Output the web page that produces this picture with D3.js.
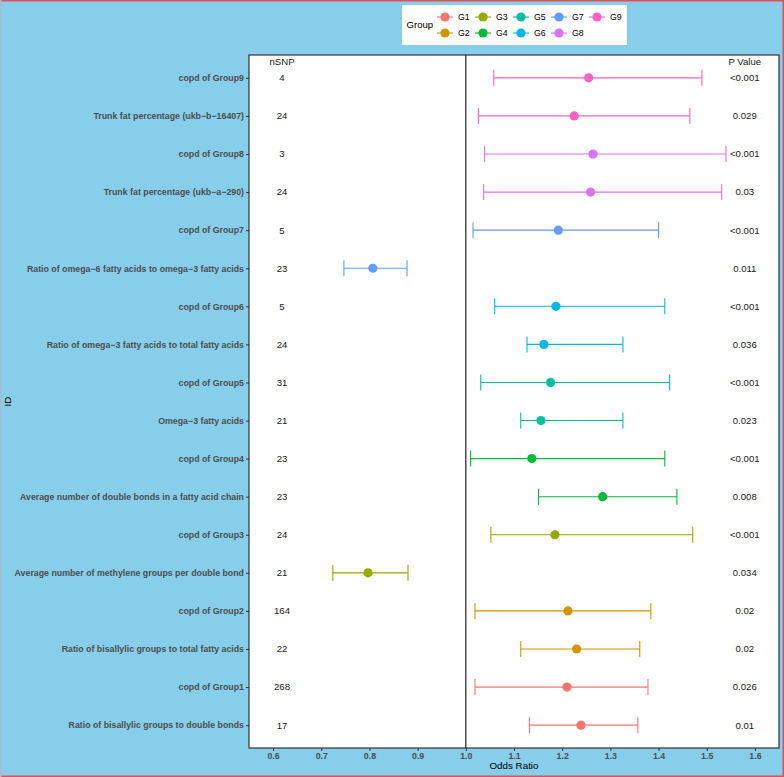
<!DOCTYPE html>
<html><head><meta charset="utf-8">
<script src="https://cdn.jsdelivr.net/npm/d3@7"></script>
<style>body{margin:0;padding:0;background:#87CEEB;} svg{display:block;}</style>
</head><body>
<script>
const labels = ["copd of Group9","Trunk fat percentage (ukb\u2212b\u221216407)","copd of Group8","Trunk fat percentage (ukb\u2212a\u2212290)","copd of Group7","Ratio of omega\u22126 fatty acids to omega\u22123 fatty acids","copd of Group6","Ratio of omega\u22123 fatty acids to total fatty acids","copd of Group5","Omega\u22123 fatty acids","copd of Group4","Average number of double bonds in a fatty acid chain","copd of Group3","Average number of methylene groups per double bond","copd of Group2","Ratio of bisallylic groups to total fatty acids","copd of Group1","Ratio of bisallylic groups to double bonds"];
const groups = ["G9","G9","G8","G8","G7","G7","G6","G6","G5","G5","G4","G4","G3","G3","G2","G2","G1","G1"];
const oddsRatio = [1.255,1.225,1.264,1.259,1.192,0.807,1.187,1.162,1.176,1.156,1.137,1.284,1.185,0.797,1.212,1.230,1.210,1.239];
const lower = [1.058,1.026,1.039,1.037,1.015,0.747,1.060,1.127,1.031,1.114,1.010,1.151,1.052,0.724,1.019,1.114,1.019,1.132];
const upper = [1.490,1.465,1.540,1.531,1.400,0.878,1.413,1.326,1.423,1.326,1.413,1.438,1.471,0.880,1.384,1.361,1.378,1.357];
const nSNP = ["4","24","3","24","5","23","5","24","31","21","23","23","24","21","164","22","268","17"];
const pValue = ["<0.001","0.029","<0.001","0.03","<0.001","0.011","<0.001","0.036","<0.001","0.023","<0.001","0.008","<0.001","0.034","0.02","0.02","0.026","0.01"];
const groupNames = ["G1","G2","G3","G4","G5","G6","G7","G8","G9"];
const groupColors = ["#F8766D","#D39200","#93AA00","#00BA38","#00C19F","#00B9E3","#619CFF","#DB72FB","#FF61C3"];
const xTicks = [0.6,0.7,0.8,0.9,1.0,1.1,1.2,1.3,1.4,1.5,1.6];

const W = 784, H = 777;
const P = {left:249, right:779, top:55, bottom:748};
const svg = d3.select("body").append("svg").attr("width",W).attr("height",H);
svg.append("rect").attr("width",W).attr("height",H).attr("fill","#87CEEB");

const x = d3.scaleLinear().domain([0.55,1.65]).range([P.left,P.right]);
const y = d3.scalePoint().domain(labels).range([P.top,P.bottom]).padding(0.6);
const color = d3.scaleOrdinal().domain(groupNames).range(groupColors);
const font = "Liberation Sans, Arial, Helvetica, sans-serif";

svg.append("rect").attr("x",P.left).attr("y",P.top).attr("width",P.right-P.left).attr("height",P.bottom-P.top).attr("fill","#fff");

// reference line at 1
svg.append("line").attr("x1",x(1)).attr("x2",x(1)).attr("y1",P.top).attr("y2",P.bottom).attr("stroke","#222").attr("stroke-width",1.2);

const data = labels.map((l,i)=>({label:l,group:groups[i],or:oddsRatio[i],lo:lower[i],hi:upper[i],n:nSNP[i],p:pValue[i]}));
const step = y.step();
const cap = 8;
const g = svg.append("g");
data.forEach(d=>{
  const c = color(d.group), yy = y(d.label);
  g.append("line").attr("x1",x(d.lo)).attr("x2",x(d.hi)).attr("y1",yy).attr("y2",yy).attr("stroke",c).attr("stroke-width",1.1);
  g.append("line").attr("x1",x(d.lo)).attr("x2",x(d.lo)).attr("y1",yy-cap).attr("y2",yy+cap).attr("stroke",c).attr("stroke-width",1.1);
  g.append("line").attr("x1",x(d.hi)).attr("x2",x(d.hi)).attr("y1",yy-cap).attr("y2",yy+cap).attr("stroke",c).attr("stroke-width",1.1);
  g.append("circle").attr("cx",x(d.or)).attr("cy",yy).attr("r",4.6).attr("fill",c);
  g.append("text").attr("x",x(0.6185)).attr("y",yy).attr("dy","0.35em").attr("text-anchor","middle").attr("font-family",font).attr("font-size","9.6px").attr("fill","#1a1a1a").text(d.n);
  g.append("text").attr("x",x(1.579)).attr("y",yy).attr("dy","0.35em").attr("text-anchor","middle").attr("font-family",font).attr("font-size","9.6px").attr("fill","#1a1a1a").text(d.p);
});
const hy = y(labels[0]) - 0.43*step;
svg.append("text").attr("x",x(0.6185)).attr("y",hy).attr("dy","0.35em").attr("text-anchor","middle").attr("font-family",font).attr("font-size","9.6px").attr("fill","#1a1a1a").text("nSNP");
svg.append("text").attr("x",x(1.579)).attr("y",hy).attr("dy","0.35em").attr("text-anchor","middle").attr("font-family",font).attr("font-size","9.6px").attr("fill","#1a1a1a").text("P Value");

// panel border
svg.append("rect").attr("x",P.left).attr("y",P.top).attr("width",P.right-P.left).attr("height",P.bottom-P.top).attr("fill","none").attr("stroke","#333").attr("stroke-width",1.2);

// axes
const xAxis = svg.append("g").attr("transform",`translate(0,${P.bottom})`).call(d3.axisBottom(x).tickValues(xTicks).tickFormat(d3.format(".1f")).tickSize(3).tickPadding(2));
xAxis.select(".domain").remove();
xAxis.selectAll("line").attr("stroke","#333");
xAxis.selectAll("text").attr("font-family",font).attr("font-size","8.8px").attr("font-weight","bold").attr("fill","#4D4D4D");

const yAxis = svg.append("g").attr("transform",`translate(${P.left},0)`).call(d3.axisLeft(y).tickSize(3).tickPadding(2));
yAxis.select(".domain").remove();
yAxis.selectAll("line").attr("stroke","#333");
yAxis.selectAll("text").attr("font-family",font).attr("font-size","8.8px").attr("font-weight","bold").attr("fill","#4D4D4D");

svg.append("text").attr("x",(P.left+P.right)/2).attr("y",769).attr("text-anchor","middle").attr("font-family",font).attr("font-size","9.8px").attr("fill","#000").text("Odds Ratio");
svg.append("text").attr("transform",`translate(10.5,${(P.top+P.bottom)/2}) rotate(-90)`).attr("text-anchor","middle").attr("font-family",font).attr("font-size","9.8px").attr("fill","#000").text("ID");

// legend
const lg = svg.append("g");
lg.append("rect").attr("x",402).attr("y",5).attr("width",225).attr("height",40).attr("fill","#fff");
lg.append("text").attr("x",406.5).attr("y",25).attr("dy","0.35em").attr("font-family",font).attr("font-size","9.6px").attr("fill","#000").text("Group");
groupNames.forEach((gn,i)=>{
  const col = Math.floor(i/2), row = i%2;
  const kx = 445 + col*38, ky = 17 + row*16;
  lg.append("line").attr("x1",kx-8).attr("x2",kx+8).attr("y1",ky).attr("y2",ky).attr("stroke",color(gn)).attr("stroke-width",1.1);
  lg.append("circle").attr("cx",kx).attr("cy",ky).attr("r",4.6).attr("fill",color(gn));
  lg.append("text").attr("x",kx+13).attr("y",ky).attr("dy","0.35em").attr("font-family",font).attr("font-size","8.8px").attr("fill","#000").text(gn);
});

// outer border
svg.append("line").attr("x1",0).attr("x2",W).attr("y1",0.75).attr("y2",0.75).attr("stroke","#E0505A").attr("stroke-width",1.5);
svg.append("line").attr("x1",0).attr("x2",W).attr("y1",H-0.75).attr("y2",H-0.75).attr("stroke","#E0505A").attr("stroke-width",1.5);
svg.append("line").attr("x1",W-0.75).attr("x2",W-0.75).attr("y1",0).attr("y2",H).attr("stroke","#E0505A").attr("stroke-width",1.5);
svg.append("line").attr("x1",0.75).attr("x2",0.75).attr("y1",0).attr("y2",H).attr("stroke","#A9BCCB").attr("stroke-width",1.5);
</script>
</body></html>
